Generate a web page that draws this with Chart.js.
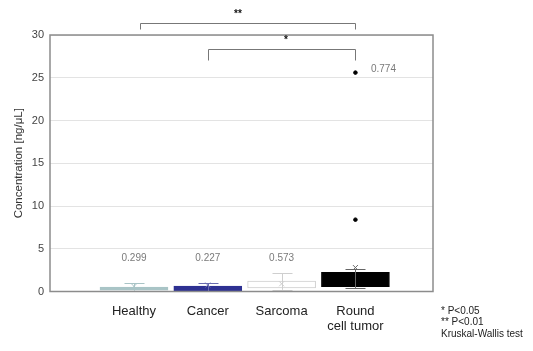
<!DOCTYPE html>
<html>
<head>
<meta charset="utf-8">
<script src="https://cdn.jsdelivr.net/npm/chart.js@4/dist/chart.umd.min.js"></script>
<style>
  html, body { margin: 0; padding: 0; background: #fff; }
  #wrap { position: relative; width: 533px; height: 351px; }
</style>
</head>
<body>
<div id="wrap"><canvas id="chart" width="533" height="351"></canvas></div>
<script>
// Datos de la figura (leídos a ojo)
const groups = ['Healthy', 'Cancer', 'Sarcoma', ['Round', 'cell tumor']];
const q1 = [0.15, 0.05, 0.42, 0.56];
const q3 = [0.53, 0.64, 1.23, 2.25];
const whiskerLow = [0.1, 0.05, 0.2, 0.42];
const whiskerHigh = [0.95, 0.95, 2.13, 2.6];
const means = [0.6, 0.75, 0.9, 2.8];
const outlierX = [3, 3];
const outlierY = [25.6, 8.4];
const pLabels = ['0.299', '0.227', '0.573', '0.774'];
const pX = [0, 1, 2, 3.38];
const pY = [3.9, 3.9, 3.9, 26];
const bracketFrom = [0.08, 1];
const bracketTo = [3, 3];
const bracketY = [31.4, 28.35];
const bracketText = ['**', '*'];
const yTicks = [0, 5, 10, 15, 20, 25, 30];

const boxFill = ['#a9c4c6', '#2e3192', '#ffffff', '#000000'];
const boxLine = ['#a9c4c6', '#2e3192', '#cfcfcf', '#000000'];
const whiskerColor = ['#a9c4c6', '#6a6db0', '#cfcfcf', '#666666'];

// Bigotes, marco, corchetes y textos
const extras = {
    id: 'extras',
    afterDatasetsDraw(chart) {
        const ctx = chart.ctx;
        const x = chart.scales.x, y = chart.scales.y;
        ctx.save();
        groups.forEach((g, i) => {
            const px = Math.round(x.getPixelForValue(i)) + 0.5;
            ctx.strokeStyle = whiskerColor[i];
            ctx.lineWidth = 1;
            ctx.beginPath();
            ctx.moveTo(px, y.getPixelForValue(whiskerLow[i]));
            ctx.lineTo(px, y.getPixelForValue(whiskerHigh[i]));
            [whiskerLow[i], whiskerHigh[i]].forEach(v => {
                const py = Math.round(y.getPixelForValue(v)) + 0.5;
                ctx.moveTo(px - 10, py);
                ctx.lineTo(px + 10, py);
            });
            ctx.stroke();
        });
        ctx.restore();
    },
    afterDraw(chart) {
        const ctx = chart.ctx;
        const a = chart.chartArea;
        const x = chart.scales.x, y = chart.scales.y;
        ctx.save();
        // marco
        ctx.strokeStyle = '#8c8c8c';
        ctx.lineWidth = 1.5;
        ctx.strokeRect(a.left, a.top, a.right - a.left, a.bottom - a.top);

        // valores p
        ctx.fillStyle = '#7a7a7a';
        ctx.font = '10px "Liberation Sans", Arial, sans-serif';
        ctx.textAlign = 'center';
        ctx.textBaseline = 'middle';
        pLabels.forEach((t, i) => {
            ctx.fillText(t, x.getPixelForValue(pX[i]), y.getPixelForValue(pY[i]));
        });

        // corchetes de significancia
        ctx.strokeStyle = '#777';
        ctx.lineWidth = 1;
        bracketText.forEach((t, i) => {
            const x1 = Math.round(x.getPixelForValue(bracketFrom[i])) + 0.5;
            const x2 = Math.round(x.getPixelForValue(bracketTo[i])) + 0.5;
            const py = Math.round(y.getPixelForValue(bracketY[i])) + 0.5;
            const drop = i === 0 ? 6 : 11;
            ctx.beginPath();
            ctx.moveTo(x1, py + drop);
            ctx.lineTo(x1, py);
            ctx.lineTo(x2, py);
            ctx.lineTo(x2, py + drop);
            ctx.stroke();
            ctx.fillStyle = '#111';
            ctx.font = 'bold 10px "Liberation Sans", Arial, sans-serif';
            ctx.fillText(t, (x1 + x2) / 2 - (i === 0 ? 10 : -4), py - 9);
        });

        // nota al pie
        ctx.fillStyle = '#222';
        ctx.font = '10px "Liberation Sans", Arial, sans-serif';
        ctx.textAlign = 'left';
        ['* P<0.05', '** P<0.01', 'Kruskal-Wallis test'].forEach((t, i) => {
            ctx.fillText(t, 441, 311 + i * 11.5);
        });
        ctx.restore();
    }
};

const ctx = document.getElementById('chart').getContext('2d');
new Chart(ctx, {
    type: 'bar',
    data: {
        datasets: [{
            type: 'bar',
            data: groups.map((g, i) => ({ x: i, y: [q1[i], q3[i]] })),
            backgroundColor: boxFill,
            borderColor: boxLine,
            borderWidth: 1,
            borderSkipped: false,
            barThickness: 68,
            order: 2
        }, {
            type: 'scatter',
            data: means.map((m, i) => ({ x: i, y: m })),
            pointStyle: 'crossRot',
            pointRadius: 3.5,
            borderColor: whiskerColor,
            borderWidth: 1,
            order: 1
        }, {
            type: 'scatter',
            data: outlierX.map((v, i) => ({ x: v, y: outlierY[i] })),
            pointStyle: 'circle',
            pointRadius: 1.8,
            backgroundColor: '#000',
            borderColor: '#000',
            order: 1
        }]
    },
    options: {
        responsive: false,
        animation: false,
        layout: { padding: { left: 0, right: 100, top: 35, bottom: 0 } },
        plugins: { legend: { display: false }, tooltip: { enabled: false } },
        scales: {
            x: {
                type: 'linear',
                offset: false,
                min: -1.138,
                max: 4.051,
                afterBuildTicks: axis => { axis.ticks = groups.map((g, i) => ({ value: i })); },
                afterFit: axis => { axis.height = 59.5; },
                grid: { display: false, drawTicks: false, offset: false },
                border: { display: false },
                ticks: {
                    autoSkip: false,
                    maxRotation: 0,
                    padding: 12,
                    color: '#222',
                    font: { family: '"Liberation Sans", Arial, sans-serif', size: 13 },
                    callback: v => groups[v]
                }
            },
            y: {
                min: 0,
                max: 30,
                afterBuildTicks: axis => { axis.ticks = yTicks.map(v => ({ value: v })); },
                afterFit: axis => { axis.width = 50; },
                grid: { color: '#e3e3e3', drawTicks: false },
                border: { display: false },
                ticks: {
                    padding: 6,
                    color: '#444',
                    font: { family: '"Liberation Sans", Arial, sans-serif', size: 11 }
                },
                title: {
                    display: true,
                    text: 'Concentration [ng/μL]',
                    color: '#333',
                    padding: { top: 12, bottom: 0 },
                    font: { family: '"Liberation Sans", Arial, sans-serif', size: 11.5 }
                }
            }
        }
    },
    plugins: [extras]
});
</script>
</body>
</html>
